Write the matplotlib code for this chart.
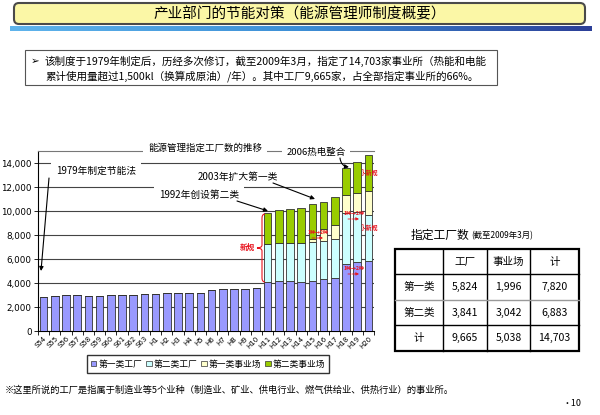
import numpy as np
import matplotlib
matplotlib.use('Agg')
import matplotlib.pyplot as plt
from matplotlib.patches import FancyBboxPatch, Rectangle, Patch
from matplotlib.path import Path
from matplotlib.patches import PathPatch

plt.rcParams['font.family'] = ['Noto Sans CJK SC', 'DejaVu Sans']

# Data
years = ['S54', 'S55', 'S56', 'S57', 'S58', 'S59', 'S60', 'S61', 'S62', 'S63',
         'H1', 'H2', 'H3', 'H4', 'H5', 'H6', 'H7', 'H8', 'H9', 'H10',
         'H11', 'H12', 'H13', 'H14', 'H15', 'H16', 'H17', 'H18', 'H19', 'H20']
type1_factory = [2800, 2950, 3000, 3000, 2950, 2950, 3000, 3000, 3000, 3080,
                 3080, 3170, 3200, 3200, 3200, 3420, 3500, 3500, 3500, 3600,
                 4100, 4170, 4170, 4080, 4170, 4300, 4440, 5600, 5750, 5824]
type2_factory = [0] * 20 + [3150, 3190, 3190, 3280, 3220, 3200, 3200, 4200, 4150, 3841]
type1_business = [0] * 20 + [0, 0, 0, 0, 280, 1030, 1190, 1500, 1600, 1996]
type2_business = [0] * 20 + [2600, 2720, 2830, 2890, 2910, 2250, 2360, 2260, 2600, 3042]

series_names = ['第一类工厂', '第二类工厂', '第一类事业场', '第二类事业场']
series_colors = ['#9999ff', '#ccffff', '#ffffcc', '#99cc00']

table_cols = ['', '工厂', '事业场', '计']
table_rows = [['第一类', '5,824', '1,996', '7,820'],
              ['第二类', '3,841', '3,042', '6,883'],
              ['计', '9,665', '5,038', '14,703']]

W, H = 600, 415
fig = plt.figure(figsize=(6, 4.15), dpi=100)

# background layer in pixel coordinates
bg = fig.add_axes([0, 0, 1, 1], zorder=0)
bg.set_xlim(0, W)
bg.set_ylim(H, 0)
bg.axis('off')

# title box
bg.add_patch(FancyBboxPatch((14, 3), 571, 21, boxstyle='round,pad=0,rounding_size=5',
                            fc='#fbf7a6', ec='#4a4a4a', lw=1.5))
bg.text(300, 14, '产业部门的节能对策（能源管理师制度概要）', ha='center', va='center',
        fontsize=10.5, color='black')

# gradient bar under title
grad = np.linspace(0, 1, 256).reshape(1, -1)
cmap = matplotlib.colors.LinearSegmentedColormap.from_list(
    'g', ['#5fb4ec', '#3d8fd6', '#2c3f98'])
bg.imshow(grad, cmap=cmap, aspect='auto', extent=[10, 592, 31, 26], zorder=1)
bg.set_xlim(0, W)
bg.set_ylim(H, 0)

# text box
bg.add_patch(Rectangle((25, 50), 472, 35, fc='white', ec='#555555', lw=0.8))
bg.text(31, 61, '➢', ha='left', va='center', fontsize=7.5, family=['DejaVu Sans'])
bg.text(45, 61, '该制度于1979年制定后，历经多次修订，截至2009年3月，指定了14,703家事业所（热能和电能',
        ha='left', va='center', fontsize=7.6)
bg.text(45, 76, '累计使用量超过1,500kl（换算成原油）/年）。其中工厂9,665家，占全部指定事业所的66%。',
        ha='left', va='center', fontsize=7.6)

# footnote and page number
bg.text(5, 390, '※这里所说的工厂是指属于制造业等5个业种（制造业、矿业、供电行业、燃气供给业、供热行业）的事业所。',
        ha='left', va='center', fontsize=6.7)
bg.text(572, 403, '•10', ha='center', va='center', fontsize=6.5)

# table
bg.text(411, 235, '指定工厂数', ha='left', va='center', fontsize=8.5)
bg.text(471, 236, '(截至2009年3月)', ha='left', va='center', fontsize=6)
xs = [395, 443, 487, 530, 579]
ys = [249, 274, 300, 325, 351]
bg.add_patch(Rectangle((xs[0], ys[0]), xs[-1] - xs[0], ys[-1] - ys[0],
                       fc='white', ec='black', lw=1.6, zorder=3))
for x in xs[1:-1]:
    bg.plot([x, x], [ys[0], ys[-1]], color='black', lw=1.0, zorder=4)
bg.plot([xs[0], xs[-1]], [ys[1], ys[1]], color='black', lw=1.0, zorder=4)
bg.plot([xs[0], xs[-1]], [ys[2], ys[2]], color='#999999', lw=1.0, zorder=4)
bg.plot([xs[0], xs[-1]], [ys[3], ys[3]], color='black', lw=1.0, zorder=4)
for j, c in enumerate(table_cols):
    bg.text((xs[j] + xs[j + 1]) / 2, (ys[0] + ys[1]) / 2, c, ha='center', va='center',
            fontsize=7.6, zorder=5)
for i, row in enumerate(table_rows):
    for j, c in enumerate(row):
        bg.text((xs[j] + xs[j + 1]) / 2, (ys[i + 1] + ys[i + 2]) / 2, c, ha='center',
                va='center', fontsize=7.6, zorder=5)

# chart
ax = fig.add_axes([38 / W, (H - 331) / H, 336 / W, 180 / H], zorder=2)
x = np.arange(len(years))
bottom = np.zeros(len(years))
for vals, name, col in zip([type1_factory, type2_factory, type1_business, type2_business],
                           series_names, series_colors):
    vals = np.array(vals, dtype=float)
    ax.bar(x, vals, width=0.68, bottom=bottom, color=col, edgecolor='#333333',
           linewidth=0.6, label=name, zorder=3)
    bottom += vals

ax.set_xlim(-0.5, len(years) - 0.5)
ax.set_ylim(0, 15000)
ax.set_yticks(np.arange(0, 14001, 2000))
ax.set_yticklabels(['{:,}'.format(v) for v in range(0, 14001, 2000)], fontsize=6.3,
                   family=['DejaVu Sans'])
ax.yaxis.grid(True, color='#444444', lw=0.8, zorder=0)
ax.set_xticks(x)
ax.set_xticklabels(years, rotation=45, ha='right', va='top', rotation_mode='anchor',
                   fontsize=5, family=['DejaVu Sans'])
ax.set_xticks(np.arange(-0.5, len(years), 1), minor=True)
ax.tick_params(axis='x', which='major', length=0, pad=3)
ax.tick_params(axis='x', which='minor', length=3, width=0.6, direction='out')
ax.tick_params(axis='y', length=3, width=0.6, direction='out', pad=1.5)
ax.spines['right'].set_visible(False)
ax.spines['top'].set_color('#777777')
ax.spines['top'].set_linewidth(0.8)
ax.spines['left'].set_linewidth(0.8)
ax.spines['bottom'].set_linewidth(0.8)

handles = [Patch(fc=c, ec='#333333', lw=0.5) for c in series_colors]
fig.legend(handles, series_names, loc='center', bbox_to_anchor=(208 / W, 1 - 364 / H),
           ncol=4, fontsize=6.3, handlelength=0.6, handleheight=0.6, handletextpad=0.2,
           columnspacing=0.5, frameon=True, fancybox=False, edgecolor='black',
           borderpad=0.5)

# annotation layer in pixel coordinates
ov = fig.add_axes([0, 0, 1, 1], zorder=5)
ov.set_xlim(0, W)
ov.set_ylim(H, 0)
ov.axis('off')

white = dict(boxstyle='square,pad=0.5', fc='white', ec='none')
ov.text(96, 171, '1979年制定节能法', ha='center', va='center', fontsize=7, bbox=white)
ov.text(205, 148, '能源管理指定工厂数的推移', ha='center', va='center', fontsize=6.8, bbox=white)
ov.text(316, 152, '2006热电整合', ha='center', va='center', fontsize=6.8, bbox=white)
ov.text(238, 177, '2003年扩大第一类', ha='center', va='center', fontsize=7,
        bbox=dict(boxstyle='square,pad=0.2', fc='white', ec='none'))
ov.text(199, 195, '1992年创设第二类', ha='center', va='center', fontsize=7, bbox=white)

arr = dict(arrowstyle='-|>', color='black', lw=0.8, mutation_scale=6, shrinkA=0, shrinkB=0)
ov.annotate('', xy=(41, 271), xytext=(49, 178), arrowprops=arr)
ov.annotate('', xy=(268, 211), xytext=(237, 201), arrowprops=arr)
ov.annotate('', xy=(315, 199), xytext=(273, 183), arrowprops=arr)
ov.annotate('', xy=(349, 167), xytext=(340, 158),
            arrowprops=dict(arr, connectionstyle='arc3,rad=0.4'))


def brace(x0, y0, y1, d=5, color='#e8141e'):
    ym = (y0 + y1) / 2
    verts = [(x0, y0), (x0 - 3, y0), (x0 - 3, y0 + 4),
             (x0 - 3, ym - 3),
             (x0 - 3, ym), (x0 - 3 - d, ym),
             (x0 - 3, ym), (x0 - 3, ym + 3),
             (x0 - 3, y1 - 4),
             (x0 - 3, y1), (x0, y1)]
    codes = [Path.MOVETO, Path.CURVE3, Path.CURVE3, Path.LINETO,
             Path.CURVE3, Path.CURVE3, Path.CURVE3, Path.CURVE3,
             Path.LINETO, Path.CURVE3, Path.CURVE3]
    ov.add_patch(PathPatch(Path(verts, codes), fc='none', ec=color, lw=0.8))


red = '#e8141e'
brace(265, 214, 282)
ov.text(247, 247, '新规', ha='center', va='center', fontsize=5.5, color=red, weight='bold')

for (tx, ty) in [(318, 232), (354, 213), (354, 268)]:
    ov.text(tx, ty, '1种→2种', ha='center', va='center', fontsize=3.6, color=red,
            weight='bold')
    ov.annotate('', xy=(tx + 5, ty + 6), xytext=(tx - 6, ty + 6),
                arrowprops=dict(arrowstyle='-|>', color=red, lw=0.6, ls='--',
                                mutation_scale=4, shrinkA=0, shrinkB=0))
for ty in [172, 227]:
    ov.text(362, ty, '}-新规', ha='left', va='center', fontsize=4.3, color=red,
            weight='bold')

fig.savefig('out.png', dpi=100)
